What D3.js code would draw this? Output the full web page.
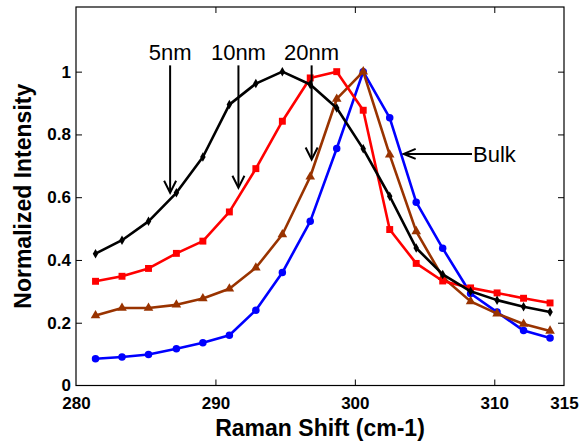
<!DOCTYPE html>
<html><head><meta charset="utf-8">
<script src="https://cdn.jsdelivr.net/npm/d3@7"></script>
<style>body{margin:0;background:#fff}svg{display:block}text{font-family:"Liberation Sans",Arial,sans-serif}</style>
</head><body>
<svg id="c" width="582" height="445"></svg>
<script>
const shifts = [281.4,283.3,285.2,287.2,289.1,291.0,292.9,294.8,296.8,298.7,300.6,302.5,304.4,306.3,308.3,310.2,312.1,314.0];
const bulk  = [0.085,0.091,0.099,0.117,0.136,0.160,0.240,0.360,0.523,0.755,1.000,0.853,0.584,0.437,0.293,0.234,0.175,0.151];
const nm20  = [0.223,0.247,0.247,0.257,0.277,0.308,0.375,0.481,0.665,0.913,1.000,0.735,0.491,0.345,0.268,0.229,0.196,0.174];
const nm10  = [0.332,0.348,0.373,0.421,0.460,0.553,0.691,0.842,0.980,1.000,0.877,0.497,0.389,0.333,0.311,0.295,0.278,0.263];
const nm5   = [0.420,0.463,0.523,0.614,0.728,0.895,0.962,1.000,0.959,0.884,0.754,0.603,0.438,0.354,0.300,0.272,0.251,0.234];
const xTicks = [280,290,300,310,315];
const yTicks = [0,0.2,0.4,0.6,0.8,1];
const series = [
  {name:"Bulk", values:bulk, color:"#0000ff", marker:"circle"},
  {name:"20nm", values:nm20, color:"#993300", marker:"triangle"},
  {name:"10nm", values:nm10, color:"#ff0000", marker:"square"},
  {name:"5nm",  values:nm5,  color:"#000000", marker:"diamond"}
];
// annotations in data units
const vArrows = [
  {label:"5nm",  x:286.75, yText:1.037, yTop:1.02, yTip:0.614},
  {label:"10nm", x:291.65, yText:1.037, yTop:1.02, yTip:0.630},
  {label:"20nm", x:296.9,  yText:1.037, yTop:1.02, yTip:0.720}
];
const hArrow = {label:"Bulk", y:0.738, xTip:303.5, xTail:308.4};

const L=76, R=564, T=7, B=385.5;
const x = d3.scaleLinear().domain([280,315]).range([L,R]);
const y = d3.scaleLinear().domain([0,1.206]).range([B,T]);
const svg = d3.select("#c");

// box
svg.append("rect").attr("x",L).attr("y",T).attr("width",R-L).attr("height",B-T)
  .attr("fill","none").attr("stroke","#000").attr("stroke-width",1.2);

// axes
const tickLen = 6;
const gx = svg.append("g").attr("transform",`translate(0,${B})`)
  .call(d3.axisBottom(x).tickValues(xTicks).tickFormat(d3.format("d")).tickSizeInner(-tickLen).tickSizeOuter(0).tickPadding(11));
const gxt = svg.append("g").attr("transform",`translate(0,${T})`)
  .call(d3.axisTop(x).tickValues(xTicks).tickFormat("").tickSizeInner(-tickLen).tickSizeOuter(0));
const gy = svg.append("g").attr("transform",`translate(${L},0)`)
  .call(d3.axisLeft(y).tickValues(yTicks).tickFormat(d=>d===0?"0":d3.format("")(d)).tickSizeInner(-tickLen).tickSizeOuter(0).tickPadding(5));
const gyr = svg.append("g").attr("transform",`translate(${R},0)`)
  .call(d3.axisRight(y).tickValues(yTicks).tickFormat("").tickSizeInner(-tickLen).tickSizeOuter(0));
[gx,gxt,gy,gyr].forEach(g=>{g.select(".domain").remove();g.selectAll("line").attr("stroke","#000").attr("stroke-width",1);});
[gx,gy].forEach(g=>g.selectAll("text").attr("font-size",17).attr("font-weight","bold").attr("fill","#000").attr("font-family",'"Liberation Sans",Arial,sans-serif'));
gx.selectAll("line").filter(d=>d===280||d===315).remove();
gxt.selectAll("line").filter(d=>d===280||d===315).remove();
gy.selectAll("line").filter(d=>d===0).remove();
gyr.selectAll("line").filter(d=>d===0).remove();

// lines
const line = d3.line().x((d,i)=>x(shifts[i])).y(d=>y(d));
const sym = {circle:d3.symbolCircle, square:d3.symbolSquare, diamond:d3.symbolDiamond, triangle:d3.symbolTriangle};
const size = {circle:44, square:48, diamond:26, triangle:40};
series.forEach(s=>{
  svg.append("path").datum(s.values).attr("d",line).attr("fill","none")
    .attr("stroke",s.color).attr("stroke-width",2.6).attr("stroke-linejoin","round");
  svg.append("g").selectAll("path").data(s.values).join("path")
    .attr("transform",(d,i)=>`translate(${x(shifts[i])},${y(d)})`)
    .attr("d",d3.symbol().type(sym[s.marker]).size(size[s.marker])())
    .attr("fill",s.color);
});

// annotations
const ah = 12, aw = 6;
vArrows.forEach(a=>{
  const px=x(a.x), top=y(a.yTop), tip=y(a.yTip);
  svg.append("text").attr("x",px).attr("y",y(a.yText)).attr("text-anchor","middle")
    .attr("font-size",22).attr("fill","#000").text(a.label);
  svg.append("line").attr("x1",px).attr("x2",px).attr("y1",top).attr("y2",tip-1)
    .attr("stroke","#000").attr("stroke-width",2);
  svg.append("path").attr("d",`M${px-aw},${tip-ah}L${px},${tip}L${px+aw},${tip-ah}`)
    .attr("fill","none").attr("stroke","#000").attr("stroke-width",2);
});
{
  const py=y(hArrow.y), tip=x(hArrow.xTip), tail=x(hArrow.xTail);
  svg.append("line").attr("x1",tip+1).attr("x2",tail).attr("y1",py).attr("y2",py)
    .attr("stroke","#000").attr("stroke-width",2);
  svg.append("path").attr("d",`M${tip+ah},${py-5}L${tip},${py}L${tip+ah},${py+5}`)
    .attr("fill","none").attr("stroke","#000").attr("stroke-width",2);
  svg.append("text").attr("x",tail+1).attr("y",py+8).attr("font-size",22).attr("fill","#000").text(hArrow.label);
}

// axis titles
svg.append("text").attr("x",(L+R)/2).attr("y",436).attr("text-anchor","middle")
  .attr("font-size",23).attr("font-weight","bold").text("Raman Shift (cm-1)");
svg.append("text").attr("transform",`translate(31,${(T+B)/2}) rotate(-90)`).attr("text-anchor","middle")
  .attr("font-size",23).attr("font-weight","bold").text("Normalized Intensity");
</script>
</body></html>
